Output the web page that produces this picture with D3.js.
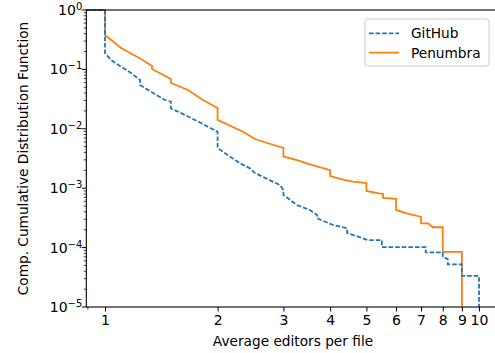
<!DOCTYPE html>
<html>
<head>
<meta charset="utf-8">
<script src="https://cdn.jsdelivr.net/npm/d3@7"></script>
<style>
  html, body { margin: 0; padding: 0; background: #fff; }
  svg { display: block; font-family: "DejaVu Sans", sans-serif; }
</style>
</head>
<body>
<svg id="chart" width="495" height="353"></svg>
<script>
// Complementary CDF of average editors per file (polyline vertices: x, P[X >= x])
const githubX = [0.85, 1, 1, 1.038, 1.104, 1.174, 1.241, 1.241, 1.327, 1.446, 1.5, 1.5, 1.636, 1.806, 2, 2,
  2.159, 2.296, 2.441, 2.518, 2.679, 2.937, 3, 3, 3.26, 3.53, 3.69, 3.69, 4.07, 4.44, 4.44, 4.75, 5.05, 5.5, 5.5,
  7.2, 7.2, 8, 8, 8.25, 8.25, 9, 9, 10, 10];
const githubY = [1, 1, 0.187, 0.144, 0.111, 0.087, 0.0663, 0.0546, 0.0421, 0.0305, 0.0287, 0.0221, 0.0171, 0.0125, 0.0089, 0.00475,
  0.00339, 0.00263, 0.00216, 0.0018, 0.00149, 0.00113, 0.00093, 0.00077, 0.00052, 0.00043, 0.000354, 0.000311, 0.00024, 0.000211, 0.000176, 0.000153, 0.000134, 0.000134, 0.000102,
  0.000102, 0.0000834, 0.0000834, 0.00007, 0.000064, 0.000052, 0.000052, 0.0000333, 0.0000333, 0];

const penumbraX = [0.85, 1, 1, 1.104, 1.248, 1.336, 1.336, 1.5, 1.5, 1.667, 1.828, 2, 2,
  2.339, 2.518, 2.712, 3, 3, 3.26, 3.53, 4, 4, 4.38, 4.6, 5, 5, 5.4, 5.54, 5.54, 6, 6,
  6.41, 6.98, 7, 7, 7.31, 7.53, 8, 8, 9, 9];
const penumbraY = [1, 1, 0.38, 0.229, 0.150, 0.114, 0.1016, 0.0689, 0.059, 0.045, 0.0305, 0.0224, 0.0141,
  0.00893, 0.00673, 0.00577, 0.00475, 0.00342, 0.00298, 0.00252, 0.00202, 0.0016, 0.00137, 0.00129, 0.00122, 0.000897, 0.00082, 0.0008, 0.000685, 0.00066, 0.00043,
  0.000378, 0.000331, 0.000327, 0.000256, 0.000256, 0.00022, 0.00022, 0.000085, 0.000085, 0];

const xTickValues = [1, 2, 3, 4, 5, 6, 7, 8, 9, 10];
const xMinorTicks = [0.9];
const yTickExponents = [0, -1, -2, -3, -4, -5];
const seriesNames = ["GitHub", "Penumbra"];
const seriesColors = ["#1f77b4", "#ff7f0e"];
const xLabel = "Average editors per file";
const yLabel = "Comp. Cumulative Distribution Function";

const svg = d3.select("#chart");
const plot = { left: 86.3, right: 497.7, top: 10, bottom: 307 };

const x = d3.scaleLog().domain([Math.pow(10, -0.05), Math.pow(10, 1.05)]).range([plot.left, plot.right]);
const yMin = 1e-5;
const y = d3.scaleLog().domain([yMin, 1]).range([plot.bottom, plot.top]);

svg.append("defs").append("clipPath").attr("id", "plotclip")
  .append("rect")
  .attr("x", plot.left).attr("y", plot.top - 1)
  .attr("width", plot.right - plot.left).attr("height", plot.bottom - plot.top + 1);

// Values of zero (or left of the axis) are pinned just outside the clipped plot area
const line = d3.line()
  .x(d => x(Math.max(d[0], x.domain()[0] * 0.9)))
  .y(d => y(Math.max(d[1], yMin * 0.5)));

const gLines = svg.append("g").attr("clip-path", "url(#plotclip)");
const penumbra = penumbraX.map((v, i) => [v, penumbraY[i]]);
const github = githubX.map((v, i) => [v, githubY[i]]);

gLines.append("path").datum(penumbra)
  .attr("d", line).attr("fill", "none")
  .attr("stroke", seriesColors[1]).attr("stroke-width", 1.8)
  .attr("stroke-linejoin", "miter");
gLines.append("path").datum(github)
  .attr("d", line).attr("fill", "none")
  .attr("stroke", seriesColors[0]).attr("stroke-width", 1.8)
  .attr("stroke-dasharray", "4.6,2");

// Axes
const tickColor = "#000";
const gx = svg.append("g").attr("transform", `translate(0,${plot.bottom})`);
gx.call(d3.axisBottom(x).tickValues(xTickValues).tickFormat(d3.format("d")).tickSize(4.5).tickPadding(4));
gx.select(".domain").remove();
gx.selectAll("text").attr("font-size", 14).attr("fill", "#000").attr("font-family", "DejaVu Sans");
gx.selectAll("line").attr("stroke-width", 1);
gx.selectAll(".minor").data(xMinorTicks).enter().append("line")
  .attr("x1", d => x(d)).attr("x2", d => x(d)).attr("y1", 0).attr("y2", 2.6)
  .attr("stroke", tickColor).attr("stroke-width", 0.8);

const gy = svg.append("g").attr("transform", `translate(${plot.left},0)`);
const yMajors = yTickExponents.map(e => Math.pow(10, e));
gy.selectAll(".major").data(yMajors).enter().append("line")
  .attr("x1", 0).attr("x2", -4.5).attr("y1", d => y(d)).attr("y2", d => y(d))
  .attr("stroke", tickColor).attr("stroke-width", 1);
const yMinors = [];
for (let e = -5; e < 0; e++) for (let m = 2; m <= 9; m++) yMinors.push(m * Math.pow(10, e));
gy.selectAll(".minor").data(yMinors).enter().append("line")
  .attr("x1", 0).attr("x2", -2.6).attr("y1", d => y(d)).attr("y2", d => y(d))
  .attr("stroke", tickColor).attr("stroke-width", 0.7);

const yLabels = gy.selectAll(".lbl").data(yTickExponents).enter().append("text")
  .attr("x", -4)
  .attr("y", d => y(Math.pow(10, d)) + 5)
  .attr("text-anchor", "end")
  .attr("font-size", 14)
  .attr("fill", "#000");
yLabels.append("tspan").text("10");
yLabels.append("tspan").attr("dy", "-0.5em").attr("font-size", 10)
  .text(d => d === 0 ? "0" : "\u2212" + Math.abs(d));

// Frame
svg.append("rect")
  .attr("x", plot.left).attr("y", plot.top)
  .attr("width", plot.right - plot.left).attr("height", plot.bottom - plot.top)
  .attr("fill", "none").attr("stroke", "#000").attr("stroke-width", 1.1);

// Axis titles
svg.append("text")
  .attr("x", (x(1) + x(10)) / 2 + 1).attr("y", 346)
  .attr("text-anchor", "middle").attr("font-size", 13.7).attr("fill", "#000")
  .text(xLabel);
svg.append("text")
  .attr("transform", `translate(27.5,${(plot.top + plot.bottom) / 2}) rotate(-90)`)
  .attr("text-anchor", "middle").attr("font-size", 13.7).attr("fill", "#000")
  .text(yLabel);

// Legend
const lg = svg.append("g");
lg.append("rect")
  .attr("x", 365).attr("y", 19).attr("width", 124).attr("height", 47).attr("rx", 3)
  .attr("fill", "#fff").attr("fill-opacity", 0.8)
  .attr("stroke", "#cccccc").attr("stroke-width", 1);
seriesNames.forEach((name, i) => {
  const ly = 33.3 + i * 19.3;
  lg.append("line")
    .attr("x1", 369).attr("x2", 399).attr("y1", ly).attr("y2", ly)
    .attr("stroke", seriesColors[i]).attr("stroke-width", 1.8)
    .attr("stroke-dasharray", i === 0 ? "4.6,2" : null);
  lg.append("text")
    .attr("x", 411).attr("y", ly + 5)
    .attr("font-size", 13.7).attr("fill", "#000")
    .text(name);
});
</script>
</body>
</html>
